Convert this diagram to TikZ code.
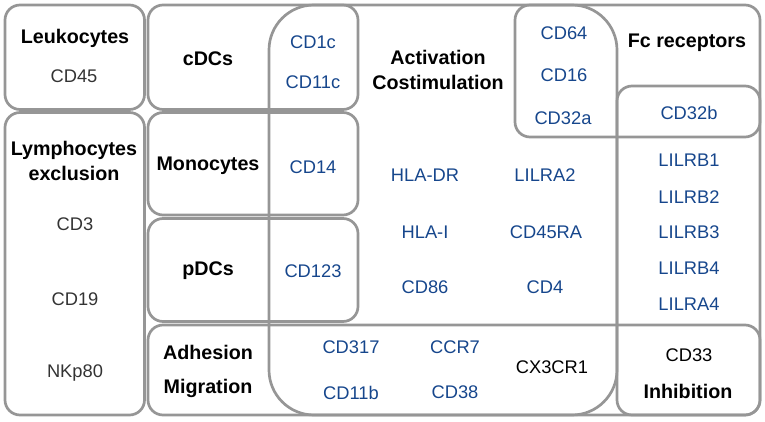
\documentclass[tikz,border=0pt]{standalone}
\usepackage{fontspec}
\setmainfont{Liberation Sans}
\definecolor{setgray}{RGB}{150,150,150}
\definecolor{mkblue}{RGB}{22,70,140}
\definecolor{txgray}{RGB}{51,51,51}
\begin{document}
\begin{tikzpicture}[x=1pt, y=-1pt,
    every node/.style={font=\fontsize{18.3}{20}\selectfont, inner sep=0pt},
    lbl/.style={font=\bfseries\fontsize{19.7}{25}\selectfont, align=center},
    mk/.style={text=mkblue},
    gr/.style={text=txgray},
    set/.style={draw=setgray, line width=2.7pt}]
    \def \r {15}
    \def \R {45}
    \useasboundingbox (0,0) rectangle (765,422);
    % left column
    \draw[set, rounded corners=\r] (5,5) rectangle (144.5,109.5);
    \draw[set, rounded corners=\r] (5,112.5) rectangle (144.5,415);
    % cell types
    \draw[set, rounded corners=\r] (148,5) rectangle (358,109.5);
    \draw[set, rounded corners=\r] (148,112.5) rectangle (358,215);
    \draw[set, rounded corners=\r] (148,218.5) rectangle (358,321.5);
    % marker sets
    \draw[set, rounded corners=\R] (269,5) rectangle (617,415);
    \draw[set, rounded corners=\r] (515,5) rectangle (760,137);
    \draw[set, rounded corners=\r] (617,86) rectangle (760,415);
    \draw[set, rounded corners=\r] (148,325) rectangle (760,415);

    \node[lbl] (leuko) at (75,38) {Leukocytes};
    \node[gr] (cd45) at (74,76) {CD45};
    \node[lbl] (lympho) at (74,161) {Lymphocytes\\exclusion};
    \node[gr] (cd3) at (75,224) {CD3};
    \node[gr] (cd19) at (75,299) {CD19};
    \node[gr] (nkp80) at (75,373) {NKp80};

    \node[lbl] (cdc) at (208,59) {cDCs};
    \node[lbl] (mono) at (208,166) {Monocytes};
    \node[lbl] (pdc) at (208,271) {pDCs};
    \node[lbl] (adh) at (208,371) {Adhesion\\[9pt]Migration};

    \node[mk] (cd1c) at (313,42) {CD1c};
    \node[mk] (cd11c) at (313,82) {CD11c};
    \node[mk] (cd14) at (313,167) {CD14};
    \node[mk] (cd123) at (313,271) {CD123};

    \node[lbl] (act) at (438,70) {Activation\\Costimulation};
    \node[mk] (hladr) at (425,175) {HLA-DR};
    \node[mk] (lilra2) at (545,175) {LILRA2};
    \node[mk] (hlai) at (425,232) {HLA-I};
    \node[mk] (cd45ra) at (546,232) {CD45RA};
    \node[mk] (cd86) at (425,287) {CD86};
    \node[mk] (cd4) at (545,287) {CD4};

    \node[mk] (cd64) at (564,33) {CD64};
    \node[mk] (cd16) at (564,75) {CD16};
    \node[mk] (cd32a) at (563,118) {CD32a};

    \node[lbl] (fc) at (687,43) {Fc receptors};
    \node[mk] (cd32b) at (689,113) {CD32b};
    \node[mk] (lilrb1) at (689,160) {LILRB1};
    \node[mk] (lilrb2) at (689,197) {LILRB2};
    \node[mk] (lilrb3) at (689,232) {LILRB3};
    \node[mk] (lilrb4) at (689,268) {LILRB4};
    \node[mk] (lilra4) at (689,304) {LILRA4};

    \node[mk] (cd317) at (351,347) {CD317};
    \node[mk] (cd11b) at (351,393) {CD11b};
    \node[mk] (ccr7) at (455,347) {CCR7};
    \node[mk] (cd38) at (455,392) {CD38};
    \node (cx3cr1) at (552,367) {CX3CR1};

    \node (cd33) at (689,355) {CD33};
    \node[lbl] (inhib) at (688,391) {Inhibition};
\end{tikzpicture}
\end{document}
